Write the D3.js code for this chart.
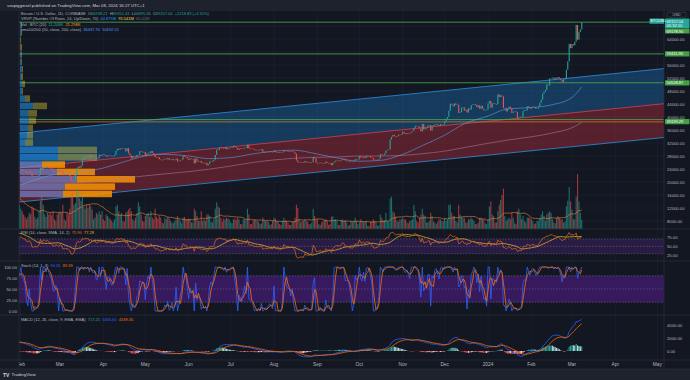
<!DOCTYPE html>
<html><head><meta charset="utf-8">
<script src="https://cdn.jsdelivr.net/npm/d3@7"></script>
<style>html,body{margin:0;padding:0;background:#1e222d;}svg{display:block;font-family:"Liberation Sans",Arial,sans-serif;}</style>
</head><body><svg id="c" width="690" height="380"></svg>
<script>
// ---------- DATA (daily BTC/USD, Coinbase) ----------
const firstDate = "2023-01-01";
const firstOpen = 16530;
const c2301=[16610,16680,16670,16850,16830,16950,16940,17120,17190,17440,17940,18850,19930,20950,20870,21180,21130,20680,21070,22670,22780,22710,22920,22630,23060,23010,23080,22960,23760,22830,23140];
const c2302=[23730,23490,23430,23330,22930,22760,23260,22960,21800,21630,21860,21780,21790,22200,24330,23520,24570,24640,24300,24840,24450,24190,23940,23190,23160,23560,23490,23140];
const c2303=[23630,23470,22360,22350,22430,22410,22200,21700,20360,20190,20630,22160,24200,24750,24380,25060,27420,26970,28040,27770,28170,27300,28330,27490,27490,27990,27140,27270,28350,28030,28480];
const c2304=[28460,28200,27800,28170,28170,28040,27920,27950,28330,29650,30230,29880,30390,30480,30320,30310,29440,30390,28820,28250,27270,27820,27590,27520,28300,28420,29470,29340,29250,29230];
const c2305=[28070,28680,29030,28850,29530,28900,28450,27690,27650,27620,26990,26800,26780,26910,27160,27030,27400,26830,26890,27110,26750,26850,27220,26330,26480,26720,26870,28080,27740,27700,27220];
const c2306=[26820,27250,27070,27120,25760,27240,26350,26500,26480,25850,25940,25900,25920,25120,25580,26340,26510,26340,26840,28310,30000,29890,30690,30550,30470,30270,30690,30080,30450,30470];
const c2307=[30590,30620,31160,30770,30510,29900,30350,30290,30170,30410,30620,30390,31470,30330,30300,30250,30140,29860,29910,29800,29910,29800,30090,29180,29230,29350,29220,29320,29360,29280,29230];
const c2308=[29700,29180,29190,29110,29060,29040,29180,29770,29580,29450,29420,29400,29290,29410,29170,28700,26630,26050,26100,26190,26120,25970,26430,26160,26050,26010,26090,26100,27730,27300,25940];
const c2309=[25800,25870,25970,25810,25780,25750,26240,25900,25890,25840,25160,25840,26220,26530,26600,26570,26530,26760,27210,27130,26570,26580,26580,26250,26300,26220,26350,27020,26910,26970];
const c2310=[27990,27500,27430,27790,27410,27950,27960,27940,27590,27390,26870,26760,26860,26860,27160,28520,28410,28330,28720,29680,29920,29990,33090,33920,34500,34160,33910,34090,34540,34480,34660];
const c2311=[35440,34940,34730,35080,35050,35040,35420,35650,36700,37320,37140,37060,36490,35550,37880,36160,36600,36580,37390,37480,35810,37420,37290,37720,37800,37480,37250,37830,37860,37720];
const c2312=[38690,39470,39980,41990,44080,43770,43290,44170,43720,43790,41240,41450,42890,43020,41940,42280,41370,42660,42270,43650,43870,43990,43740,43010,43580,42520,43440,42580,42070,42140,42280];
const c2401=[44180,44950,42850,44180,44160,43970,43930,46970,46120,46660,46340,42780,42840,41730,42510,43150,42740,41260,41620,41690,41580,39570,39890,40080,39930,41820,42120,42030,43300,42950,42580];
const c2402=[43080,43200,43010,42580,42660,43090,44340,45290,47130,47770,48290,50000,49730,51830,51920,52130,51660,52120,51780,52260,51840,51300,50730,51570,51730,54520,57080,62500,61200];
const c2403=[62440,62030,63170,68330,63800,66110,66930,69157.04];

// daily volume, thousand BTC
const v2301=[12,10,14,20,18,17,12,15,30,35,40,55,60,58,35,45,40,42,38,45,40,28,35,33,35,30,28,22,30,38,30];
const v2302=[25,22,18,15,12,15,20,18,28,25,15,12,14,22,35,40,30,18,15,20,18,20,17,22,12,10,18,20];
const v2303=[22,20,30,12,10,20,18,25,42,45,30,32,50,45,38,35,42,28,25,30,26,30,28,24,12,14,20,18,22,18,22];
const v2304=[12,10,18,16,14,12,10,8,12,28,30,22,18,20,10,9,20,22,24,26,22,12,10,14,20,33,28,18,10,9];
const v2305=[16,18,20,15,22,14,12,25,15,13,16,14,8,7,14,12,15,13,10,8,7,10,12,16,12,10,7,14,15,12,12];
const v2306=[13,12,8,8,25,22,16,10,10,22,10,12,10,18,18,16,9,8,12,25,33,28,26,14,9,13,12,14,13,12];
const v2307=[8,7,12,13,11,14,12,6,6,12,12,11,25,18,6,6,10,12,11,10,9,6,7,14,11,10,10,9,5,6,10];
const v2308=[14,13,10,9,6,5,10,14,11,10,8,5,5,9,9,14,30,26,12,8,10,10,12,10,9,6,6,8,25,16,12];
const v2309=[12,6,5,8,10,11,12,10,5,6,15,16,12,12,10,5,5,11,12,10,11,8,4,5,10,9,10,14,10,6];
const v2310=[9,12,10,9,9,10,4,4,9,9,12,10,8,4,5,18,14,11,11,20,10,9,38,40,22,20,15,10,9,12,12];
const v2311=[14,12,12,8,7,10,11,12,30,22,10,8,14,18,25,18,16,8,8,10,20,16,9,8,6,9,12,12,10,10];
const v2312=[14,10,12,30,30,20,16,16,10,8,30,18,15,14,14,8,8,12,12,14,12,10,6,6,8,14,14,12,12,7,6];
const v2401=[12,28,34,18,16,8,8,22,30,36,42,50,16,10,12,14,12,20,14,7,6,22,25,18,12,16,10,8,14,14,14];
const v2402=[12,10,6,7,10,10,14,18,22,16,10,18,20,22,20,12,8,7,14,16,14,12,12,8,9,28,35,52,34];
const v2403=[24,12,12,40,68,34,20,11.2];

// SMA 50 / 200
const maDates=["2023-02-01","2023-02-15","2023-03-01","2023-03-15","2023-04-01","2023-04-15","2023-05-01","2023-05-15","2023-06-01","2023-06-15","2023-07-01","2023-07-15","2023-08-01","2023-08-15","2023-09-01","2023-09-15","2023-10-01","2023-10-15","2023-11-01","2023-11-15","2023-12-01","2023-12-15","2024-01-01","2024-01-15","2024-02-01","2024-02-15","2024-03-01","2024-03-08"];
const sma50=[19100,21200,22600,23000,24300,26100,28000,28500,28000,27200,27500,28500,29500,29800,28600,27400,26400,26600,28500,31200,34400,37900,40300,42500,42900,43700,46000,49300];
const sma200=[19700,19700,19700,19800,20400,21100,21900,22500,23200,23900,24900,25900,26800,27300,27600,27700,28000,28000,28200,28700,29500,30600,31900,32900,33900,35000,36700,38300];

// regression channel (drawing)
const chanDates=["2023-01-30","2024-05-06"];
const chanUpper=[35000,54900];
const chanMid=[24300,44100];
const chanLower=[13800,33700];

// horizontal levels
const levelPrices=[69178.90,59411.96,50528.87,39199.29,38500];
const levelColors=["#4caf50","#4caf50","#4caf50","#4caf50","#c27a2c"];
const levelLabels=["69178.90","59411.96","50528.87","39199.29",null];

// volume profile (24 rows, bottom -> top), relative volume
const vpLow=15200, vpHigh=69350;
const vpUp  =[43,45,57,37,22,38,38,5,7,8,9,8,13,5,2,2,1,2,1,1,0,0,1,1];
const vpDown=[49,50,58,38,23,39,39,8,6,5,7,9,14,5,1,3,2,1,1,1,2,1,1,1];
const vpValueArea=[1,1,1,1,1,0,0,0,0,0,0,0,0,0,0,0,0,0,0,0,0,0,0,0];

// axes
const priceGrid=[8000,12000,16000,20000,24000,28000,32000,36000,40000,44000,48000,52000,56000,60000,64000,68000];
const priceTickLabels=[8000,12000,16000,20000,24000,28000,32000,36000,40000,44000,48000,52000,56000,64000];
const monthTicks=["2023-02-01","2023-03-01","2023-04-01","2023-05-01","2023-06-01","2023-07-01","2023-08-01","2023-09-01","2023-10-01","2023-11-01","2023-12-01","2024-01-01","2024-02-01","2024-03-01","2024-04-01","2024-05-01"];
const monthLabels=["Feb","Mar","Apr","May","Jun","Jul","Aug","Sep","Oct","Nov","Dec","2024","Feb","Mar","Apr","May"];
const rsiTicks=[75,50,25], stochTicks=[100,75,50,25,0], macdTicks=[4000,2000,0];

// ---------- BUILD ----------
const closes=[].concat(c2301,c2302,c2303,c2304,c2305,c2306,c2307,c2308,c2309,c2310,c2311,c2312,c2401,c2402,c2403);
const vols=[].concat(v2301,v2302,v2303,v2304,v2305,v2306,v2307,v2308,v2309,v2310,v2311,v2312,v2401,v2402,v2403);
const t0=Date.parse(firstDate+"T00:00:00Z");
const dates=closes.map((_,i)=>new Date(t0+i*864e5));
const opens=closes.map((c,i)=>i===0?firstOpen:closes[i-1]);
const D=s=>new Date(s+"T00:00:00Z");

function sma(a,n){return a.map((_,i)=>{if(i<n-1||a[i]==null)return null;let s=0;for(let k=i-n+1;k<=i;k++){if(a[k]==null)return null;s+=a[k];}return s/n;});}
function ema(a,n){const k=2/(n+1);let e=null;return a.map(v=>{if(v==null)return null;e=e==null?v:v*k+e*(1-k);return e;});}
function rsiCalc(c,n){const out=[null];let g=0,l=0;for(let i=1;i<c.length;i++){const d=c[i]-c[i-1],u=Math.max(d,0),w=Math.max(-d,0);if(i<=n){g+=u;l+=w;if(i===n){g/=n;l/=n;out.push(100-100/(1+g/l));}else out.push(null);}else{g=(g*(n-1)+u)/n;l=(l*(n-1)+w)/n;out.push(l===0?100:100-100/(1+g/l));}}return out;}
const rsi=rsiCalc(closes,14), rsiMa=sma(rsi,14);
const stK=closes.map((c,i)=>{if(i<13)return null;const w=closes.slice(i-13,i+1);const lo=d3.min(w),hi=d3.max(w);return hi===lo?50:(c-lo)/(hi-lo)*100;});
const stD=sma(stK,3);
const e12=ema(closes,12),e26=ema(closes,26);
const macd=closes.map((_,i)=>e12[i]-e26[i]);
const sig=ema(macd,9);
const hist=macd.map((m,i)=>m-sig[i]);
const volMa=sma(vols,20);

const W=690,H=380,XL=19,XR=664;
const P={main:[11,229],rsi:[229,261],sto:[261,315],macd:[315,360]};
const x=d3.scaleUtc().domain([D("2023-02-01"),D("2024-05-01")]).range([20.83,657.3]);
const yP=d3.scaleLinear().domain([0,76000]).range([247,0]);
const yV=d3.scaleLinear().domain([0,70]).range([229,172.4]);
const yR=d3.scaleLinear().domain([0,100]).range([264.8,227.8]);
const yS=d3.scaleLinear().domain([0,100]).range([311,267]);
const yM=d3.scaleLinear().domain([0,4000]).range([351,325.8]);

const svg=d3.select("#c");
const defs=svg.append("defs");
Object.entries(P).forEach(([k,[a,b]])=>{defs.append("clipPath").attr("id","cl-"+k).append("rect").attr("x",XL).attr("y",a).attr("width",XR-XL).attr("height",b-a);});
defs.append("clipPath").attr("id","cl-x").append("rect").attr("x",XL).attr("y",360).attr("width",XR-XL).attr("height",9);

svg.append("rect").attr("width",W).attr("height",H).attr("fill","#1e222d");
svg.append("rect").attr("x",0).attr("y",11).attr("width",W).attr("height",358).attr("fill","#131722");
svg.append("rect").attr("x",0).attr("y",11).attr("width",XL).attr("height",358).attr("fill","#161a25");

const G={};
Object.keys(P).forEach(k=>{G[k]=svg.append("g").attr("clip-path","url(#cl-"+k+")");});

// grid
Object.entries(P).forEach(([k,[a,b]])=>{
  G[k].selectAll(null).data(monthTicks).join("line").attr("x1",d=>x(D(d))).attr("x2",d=>x(D(d))).attr("y1",a).attr("y2",b).attr("stroke","#1d2130").attr("stroke-width",0.7);
});
G.main.selectAll(null).data(priceGrid).join("line").attr("x1",XL).attr("x2",XR).attr("y1",d=>yP(d)).attr("y2",d=>yP(d)).attr("stroke","#1d2130").attr("stroke-width",0.7);

// channel
const cx=chanDates.map(D);
const chanPath=(top,bot)=>`M${x(cx[0])},${yP(top[0])}L${x(cx[1])},${yP(top[1])}L${x(cx[1])},${yP(bot[1])}L${x(cx[0])},${yP(bot[0])}Z`;
G.main.append("path").attr("d",chanPath(chanUpper,chanMid)).attr("fill","rgba(33,150,243,0.28)");
G.main.append("path").attr("d",chanPath(chanMid,chanLower)).attr("fill","rgba(242,54,69,0.3)");
const cLine=(arr,col)=>G.main.append("line").attr("x1",x(cx[0])).attr("y1",yP(arr[0])).attr("x2",x(cx[1])).attr("y2",yP(arr[1])).attr("stroke",col).attr("stroke-width",0.8);
cLine(chanUpper,"#2f8fe0");cLine(chanMid,"#d8404c");cLine(chanLower,"#2f8fe0");

// levels
levelPrices.forEach((p,i)=>G.main.append("line").attr("x1",XL).attr("x2",XR).attr("y1",yP(p)).attr("y2",yP(p)).attr("stroke",levelColors[i]).attr("stroke-width",0.8));

// volume profile
const rowH=(yP(vpLow)-yP(vpHigh))/24;
const vpW=d3.scaleLinear().domain([0,d3.max(vpUp.map((u,i)=>u+vpDown[i]))]).range([0,115]);
vpUp.forEach((u,i)=>{
  const pB=vpLow+(vpHigh-vpLow)*i/24, yTop=yP(pB)-rowH+0.4, h=rowH-0.8;
  const va=vpValueArea[i];
  G.main.append("rect").attr("x",XL+1).attr("y",yTop).attr("width",vpW(u)).attr("height",h).attr("fill",va?"rgba(120,150,230,0.6)":"rgba(33,150,243,0.55)");
  G.main.append("rect").attr("x",XL+1+vpW(u)).attr("y",yTop).attr("width",vpW(vpDown[i])).attr("height",h).attr("fill",va?"rgba(255,152,0,0.82)":"rgba(255,235,59,0.35)");
});

// moving averages
const mline=(vals)=>d3.line().curve(d3.curveMonotoneX).x((d,i)=>x(D(maDates[i]))).y(d=>yP(d))(vals);
G.main.append("path").attr("d",mline(sma200)).attr("fill","none").attr("stroke","#a67fa6").attr("stroke-width",0.8).attr("opacity",0.7);
G.main.append("path").attr("d",mline(sma50)).attr("fill","none").attr("stroke","#5aa0e0").attr("stroke-width",0.8).attr("opacity",0.75);

// volume
const up=i=>closes[i]>=opens[i];
G.main.selectAll(null).data(vols).join("rect").attr("x",(d,i)=>x(dates[i])-0.55).attr("width",1.1).attr("y",d=>yV(d)).attr("height",d=>yV(0)-yV(d)).attr("fill",(d,i)=>up(i)?"#26a69a":"#ef5350").attr("opacity",0.6);
G.main.append("path").attr("d",d3.line().defined(d=>d!=null).x((d,i)=>x(dates[i])).y(d=>yV(d))(volMa)).attr("fill","none").attr("stroke","#e8873a").attr("stroke-width",0.7).attr("opacity",0.85);

// candles
G.main.selectAll(null).data(closes).join("rect").attr("x",(d,i)=>x(dates[i])-0.55).attr("width",1.1)
 .attr("y",(d,i)=>yP(Math.max(d,opens[i]))).attr("height",(d,i)=>Math.max(0.6,Math.abs(yP(opens[i])-yP(d))))
 .attr("fill",(d,i)=>up(i)?"#26a69a":"#ef5350");

// RSI
G.rsi.append("rect").attr("x",XL).attr("width",XR-XL).attr("y",yR(70)).attr("height",yR(30)-yR(70)).attr("fill","#281c44");
[70,50,30].forEach(v=>G.rsi.append("line").attr("x1",XL).attr("x2",XR).attr("y1",yR(v)).attr("y2",yR(v)).attr("stroke","#787b86").attr("stroke-width",0.5).attr("stroke-dasharray","1.5,1.5"));
const L=(arr,ys)=>d3.line().defined(d=>d!=null).x((d,i)=>x(dates[i])).y(d=>ys(d))(arr);
G.rsi.append("path").attr("d",L(rsiMa,yR)).attr("fill","none").attr("stroke","#e0b030").attr("stroke-width",0.8);
G.rsi.append("path").attr("d",L(rsi,yR)).attr("fill","none").attr("stroke","#d2641e").attr("stroke-width",0.8);

// Stoch
G.sto.append("rect").attr("x",XL).attr("width",XR-XL).attr("y",yS(80)).attr("height",yS(20)-yS(80)).attr("fill","#37195e");
[80,50,20].forEach(v=>G.sto.append("line").attr("x1",XL).attr("x2",XR).attr("y1",yS(v)).attr("y2",yS(v)).attr("stroke","#787b86").attr("stroke-width",0.5).attr("stroke-dasharray","1.5,1.5"));
G.sto.append("path").attr("d",L(stK,yS)).attr("fill","none").attr("stroke","#2962ff").attr("stroke-width",0.8);
G.sto.append("path").attr("d",L(stD,yS)).attr("fill","none").attr("stroke","#ff6d00").attr("stroke-width",0.8);

// MACD
G.macd.selectAll(null).data(hist).join("rect").attr("x",(d,i)=>x(dates[i])-0.55).attr("width",1.1)
 .attr("y",d=>Math.min(yM(d),yM(0))).attr("height",d=>Math.abs(yM(d)-yM(0)))
 .attr("fill",(d,i)=>{const p=i>0?hist[i-1]:d;return d>=0?(d>=p?"#26a69a":"#b2dfdb"):(d<p?"#ff5252":"#ffcdd2");});
G.macd.append("path").attr("d",L(macd,yM)).attr("fill","none").attr("stroke","#2962ff").attr("stroke-width",0.8);
G.macd.append("path").attr("d",L(sig,yM)).attr("fill","none").attr("stroke","#ff6d00").attr("stroke-width",0.8);

// separators
[229,261,315,360,369].forEach(y=>svg.append("line").attr("x1",0).attr("x2",W).attr("y1",y).attr("y2",y).attr("stroke","#2a2e39").attr("stroke-width",0.8));
svg.append("line").attr("x1",XL).attr("x2",XL).attr("y1",11).attr("y2",369).attr("stroke","#2a2e39").attr("stroke-width",0.8);
svg.append("line").attr("x1",XR).attr("x2",XR).attr("y1",11).attr("y2",369).attr("stroke","#2a2e39").attr("stroke-width",0.8);

// axes text
const AX="#b2b5be";
const tx=(xx,yy,s,opt={})=>svg.append("text").attr("x",xx).attr("y",yy).attr("font-size",opt.fs||4.2).attr("fill",opt.c||AX).attr("text-anchor",opt.a||"start").attr("dominant-baseline","central").attr("font-weight",opt.w||"normal").text(s);
priceTickLabels.forEach(p=>tx(667,yP(p),p.toFixed(2)));
rsiTicks.forEach(v=>tx(667,yR(v),v.toFixed(2)));
macdTicks.forEach(v=>tx(667,yM(v),v.toFixed(2)));
stochTicks.forEach(v=>tx(17,yS(v),v.toFixed(2),{a:"end"}));
const xg=svg.append("g").attr("clip-path","url(#cl-x)");
monthTicks.forEach((d,i)=>xg.append("text").attr("x",x(D(d))).attr("y",364.5).attr("font-size",4.8).attr("fill",AX).attr("text-anchor","middle").attr("dominant-baseline","central").text(monthLabels[i]));

// price labels boxes
const box=(y,s,fill,xx=665,w=24.5,h=5.2)=>{svg.append("rect").attr("x",xx).attr("y",y-h/2).attr("width",w).attr("height",h).attr("rx",0.6).attr("fill",fill);tx(xx+1.6,y,s,{c:"#ffffff",fs:4});};
levelPrices.forEach((p,i)=>{if(levelLabels[i]&&i>0)box(yP(p)+(i===3?2:0),levelLabels[i],"#43a047");});
svg.append("rect").attr("x",665).attr("y",18.6).attr("width",24.5).attr("height",9.6).attr("rx",0.6).attr("fill","#26a69a");
tx(666.6,21.2,closes[closes.length-1].toFixed(2),{c:"#fff",fs:4});
tx(666.6,25.8,"05:32:10",{c:"#fff",fs:4});
box(31,levelLabels[0],"#43a047");
svg.append("rect").attr("x",649.5).attr("y",18.6).attr("width",14.5).attr("height",5.2).attr("rx",0.6).attr("fill","#26a69a");
tx(650.6,21.2,"BTCUSD",{c:"#fff",fs:3.6});
svg.append("rect").attr("x",667).attr("y",12.2).attr("width",19).attr("height",5).attr("rx",0.8).attr("fill","none").attr("stroke","#4a4e59").attr("stroke-width",0.5);
tx(676.5,14.8,"USD",{a:"middle",fs:3.8});

// legends
const leg=(xx,yy,parts,fs=4)=>{const t=svg.append("text").attr("x",xx).attr("y",yy).attr("font-size",fs).attr("xml:space","preserve");parts.forEach(([s,c])=>t.append("tspan").attr("fill",c).text(s));};
const LG="#b2b5be",TE="#26a69a";
leg(21,15,[["Bitcoin / U.S. Dollar, 1D, COINBASE  ",LG],["O",LG],["66938.21  ",TE],["H",LG],["69351.43  ",TE],["L",LG],["66895.36  ",TE],["C",LG],["69157.04  ",TE],["+2218.83 (+3.31%)",TE]]);
leg(21,20,[["VRVP (Number Of Rows, 24, Up/Down, 70)  ",LG],["44.875M  ","#2196f3"],["95.541M  ","#ffd54f"],["65.41M","#6a6d78"]]);
leg(21,25.6,[["Vol · BTC (20)  ",LG],["11.208K  ",TE],["21.298K","#ff9800"]]);
leg(21,31,[["sma50/200 (50, close, 200, close)  ",LG],["36437.70  ","#5b9cf6"],["50192.51","#5b9cf6"]]);
leg(21,234,[["RSI (14, close, SMA, 14, 2)  ",LG],["75.90  ","#e0702a"],["77.28","#e0b030"]]);
leg(21,267,[["Stoch (14, 1, 3)  ",LG],["96.65  ","#2962ff"],["89.39","#ff6d00"]]);
leg(21,321,[["MACD (12, 26, close, 9, EMA, EMA)  ",LG],["717.25  ",TE],["5056.60  ","#2962ff"],["4339.35","#ff6d00"]]);

// header + footer
tx(7,5.8,"sovpiggiesel published on TradingView.com, Mar 08, 2024 16:27 UTC+1",{fs:4.3,c:"#d1d4dc"});
tx(3,374.5,"TV",{fs:5,c:"#d1d4dc",w:"bold"});
tx(11.5,374.5,"TradingView",{fs:4.4,c:"#d1d4dc"});
</script></body></html>
